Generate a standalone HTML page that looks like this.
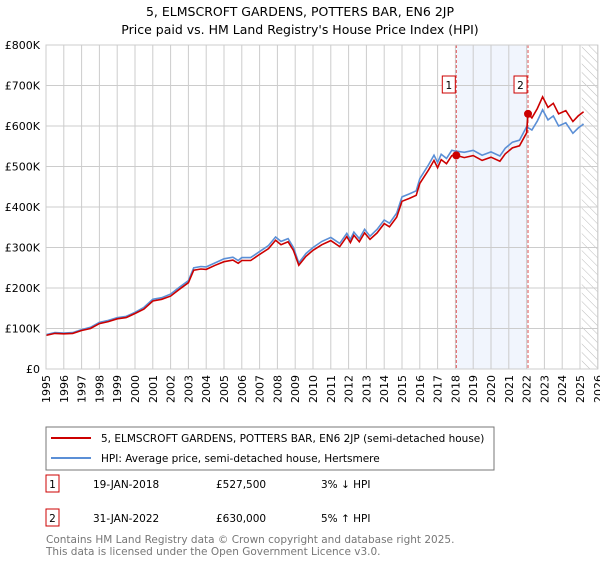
<!DOCTYPE html>
<html><head><meta charset="utf-8"><style>
body{margin:0;background:#fff;font-family:"DejaVu Sans","Liberation Sans",sans-serif;}
svg text{font-family:"DejaVu Sans","Liberation Sans",sans-serif;}
</style></head><body>
<svg id="chart" width="600" height="560" xmlns="http://www.w3.org/2000/svg">
<defs><pattern id="hatch" width="6" height="6" patternUnits="userSpaceOnUse" patternTransform="rotate(-45)"><line x1="0" y1="0" x2="0" y2="6" stroke="#bbb" stroke-width="1"/></pattern></defs>
<text x="300" y="16" text-anchor="middle" font-size="12.5">5, ELMSCROFT GARDENS, POTTERS BAR, EN6 2JP</text>
<text x="300" y="34" text-anchor="middle" font-size="12.5">Price paid vs. HM Land Registry's House Price Index (HPI)</text>
<g id="grid"></g><g id="marks"></g><g id="axes"></g>
<g>
<rect x="46" y="427" width="448" height="43" fill="#fff" stroke="#777"/>
<line x1="51" y1="438" x2="91" y2="438" stroke="#cc0000" stroke-width="2"/>
<text x="101" y="442" font-size="10.5">5, ELMSCROFT GARDENS, POTTERS BAR, EN6 2JP (semi-detached house)</text>
<line x1="51" y1="458" x2="91" y2="458" stroke="#5b8fd6" stroke-width="2"/>
<text x="101" y="462" font-size="10.5">HPI: Average price, semi-detached house, Hertsmere</text>
</g>
<g font-size="10.5">
<rect x="46" y="475" width="13" height="17" fill="#fff" stroke="#cc0000"/><text x="52.5" y="488" text-anchor="middle">1</text>
<text x="93" y="488">19-JAN-2018</text><text x="216" y="488">£527,500</text><text x="321" y="488">3% ↓ HPI</text>
<rect x="46" y="509" width="13" height="17" fill="#fff" stroke="#cc0000"/><text x="52.5" y="522" text-anchor="middle">2</text>
<text x="93" y="522">31-JAN-2022</text><text x="216" y="522">£630,000</text><text x="321" y="522">5% ↑ HPI</text>
</g>
<text x="46" y="543" font-size="10.5" fill="#777">Contains HM Land Registry data © Crown copyright and database right 2025.</text>
<text x="46" y="555" font-size="10.5" fill="#777">This data is licensed under the Open Government Licence v3.0.</text>
</svg>
<script>
const yearTicks=[1995,1996,1997,1998,1999,2000,2001,2002,2003,2004,2005,2006,2007,2008,2009,2010,2011,2012,2013,2014,2015,2016,2017,2018,2019,2020,2021,2022,2023,2024,2025,2026];
const priceTicks=[0,100,200,300,400,500,600,700,800];
const priceTickLabels=["£0","£100K","£200K","£300K","£400K","£500K","£600K","£700K","£800K"];
const hpiDates=[1995.0,1995.5,1996.0,1996.5,1997.0,1997.5,1998.0,1998.5,1999.0,1999.5,2000.0,2000.5,2001.0,2001.5,2002.0,2002.5,2003.0,2003.3,2003.7,2004.0,2004.5,2005.0,2005.5,2005.8,2006.0,2006.5,2007.0,2007.5,2007.9,2008.2,2008.6,2008.9,2009.2,2009.6,2010.0,2010.5,2011.0,2011.5,2011.9,2012.1,2012.3,2012.6,2012.9,2013.2,2013.6,2014.0,2014.3,2014.7,2015.0,2015.4,2015.8,2016.0,2016.5,2016.8,2017.0,2017.2,2017.5,2017.8,2018.0,2018.5,2019.0,2019.5,2020.0,2020.5,2020.8,2021.2,2021.6,2022.0,2022.3,2022.6,2022.9,2023.2,2023.5,2023.8,2024.2,2024.6,2024.9,2025.2];
const hpiValues=[85,90,89,90,97,103,115,120,127,130,140,152,172,176,185,202,218,250,253,252,262,272,276,268,275,275,290,305,326,315,322,300,262,285,300,315,325,310,335,320,338,322,345,328,345,368,360,385,425,432,440,470,505,528,510,530,520,540,538,535,540,528,536,526,545,560,565,598,590,612,640,615,625,600,608,582,595,605];
const priceDates=[1995.0,1995.5,1996.0,1996.5,1997.0,1997.5,1998.0,1998.5,1999.0,1999.5,2000.0,2000.5,2001.0,2001.5,2002.0,2002.5,2003.0,2003.3,2003.7,2004.0,2004.5,2005.0,2005.5,2005.8,2006.0,2006.5,2007.0,2007.5,2007.9,2008.2,2008.6,2008.9,2009.2,2009.6,2010.0,2010.5,2011.0,2011.5,2011.9,2012.1,2012.3,2012.6,2012.9,2013.2,2013.6,2014.0,2014.3,2014.7,2015.0,2015.4,2015.8,2016.0,2016.5,2016.8,2017.0,2017.2,2017.5,2017.8,2018.05,2018.5,2019.0,2019.5,2020.0,2020.5,2020.8,2021.2,2021.6,2022.0,2022.08,2022.3,2022.6,2022.9,2023.2,2023.5,2023.8,2024.2,2024.6,2024.9,2025.2];
const priceValues=[83,88,87,88,95,100,112,117,124,127,137,148,168,172,180,197,213,244,247,246,256,265,269,261,268,268,283,297,318,307,314,293,256,278,293,307,317,302,327,312,330,314,336,320,336,359,351,375,414,421,429,458,492,515,497,517,507,527,527.5,522,527,515,523,513,531,546,551,583,630,620,643,672,646,656,630,638,611,625,635];
const saleDates=[2018.05,2022.08];
const saleValues=[527.5,630];
const saleLabels=["1","2"];
const NS="http://www.w3.org/2000/svg";
const L=46,R=597.8,T=45,B=369;
const x=d=>L+(d-1995)/(2026-1995)*(R-L);
const y=v=>B-v/800*(B-T);
function mk(tag,attrs,parent){const e=document.createElementNS(NS,tag);for(const k in attrs)e.setAttribute(k,attrs[k]);parent.appendChild(e);return e;}
const grid=document.getElementById('grid'),marks=document.getElementById('marks'),axes=document.getElementById('axes');
let bg=mk('rect',{x:L,y:T,width:R-L,height:B-T,fill:'#fff'},grid);


let sh=mk('rect',{x:x(saleDates[0]),y:T,width:x(saleDates[1])-x(saleDates[0]),height:B-T,fill:'#eef3fc',opacity:0.8},grid);


let ht=mk('rect',{x:x(2025.1),y:T,width:R-x(2025.1),height:B-T,fill:'url(#hatch)'},grid);


yearTicks.forEach(t=>{
  let g=mk('line',{x1:x(t),x2:x(t),y1:T,y2:B,stroke:'#ccc','stroke-width':1},grid);
  
  
  let tx=mk('text',{x:0,y:0,'font-size':11,'text-anchor':'end',transform:`translate(${x(t)+4},${B+6}) rotate(-90)`},axes);
  tx.textContent=t;
  
  
});
priceTicks.forEach((t,i)=>{
  let g=mk('line',{x1:L,x2:R,y1:y(t),y2:y(t),stroke:'#ccc','stroke-width':1},grid);
  
  
  let tx=mk('text',{x:40,y:y(t)+4,'font-size':11,'text-anchor':'end'},axes);
  tx.textContent=priceTickLabels[i];
  
  
});
saleDates.forEach((d,i)=>{
  let l=mk('line',{x1:x(d),x2:x(d),y1:T,y2:B,stroke:'#e05555','stroke-width':1,'stroke-dasharray':'3,2'},marks);
  
  
});
let hp=mk('path',{d:hpiDates.map((d,i)=>(i?'L':'M')+x(d).toFixed(1)+','+y(hpiValues[i]).toFixed(1)).join(''),fill:'none',stroke:'#5b8fd6','stroke-width':1.6},marks);


let pp=mk('path',{d:priceDates.map((d,i)=>(i?'L':'M')+x(d).toFixed(1)+','+y(priceValues[i]).toFixed(1)).join(''),fill:'none',stroke:'#cc0000','stroke-width':1.6},marks);


saleDates.forEach((d,i)=>{
  let c=mk('circle',{cx:x(d),cy:y(saleValues[i]),r:4,fill:'#cc0000'},marks);
  
  
  let b=mk('rect',{x:x(d)-14,y:76,width:13,height:17,fill:'#fff',stroke:'#cc0000'},marks);
  
  
  let t=mk('text',{x:x(d)-7.5,y:89,'font-size':10.5,'text-anchor':'middle'},marks);
  t.textContent=saleLabels[i];
  
  
});
let fr=mk('rect',{x:L,y:T,width:R-L,height:B-T,fill:'none',stroke:'#ccc'},axes);


</script>
</body></html>
